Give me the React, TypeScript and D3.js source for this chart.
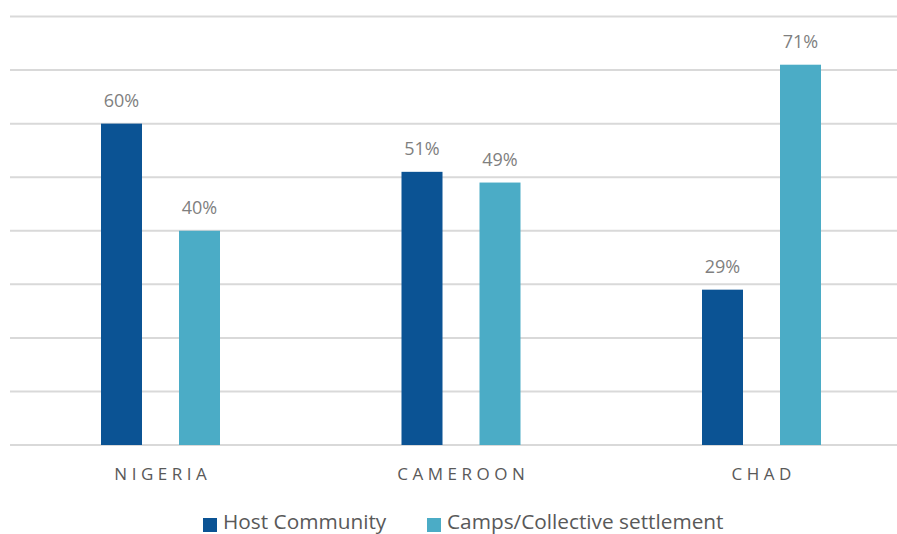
import React from "react";
import * as d3 from "d3";

const categories = ["NIGERIA", "CAMEROON", "CHAD"];
const seriesNames = ["Host Community", "Camps/Collective settlement"];
const hostValues = [0.6, 0.51, 0.29];
const campValues = [0.4, 0.49, 0.71];
const gridTicks = [0, 0.1, 0.2, 0.3, 0.4, 0.5, 0.6, 0.7, 0.8];

const colors = ["#0b5394", "#4bacc6"];
const W = 897;
const H = 534;
const FONT = "'Open Sans', sans-serif";

export default function App() {
  const x = d3.scaleBand<string>().domain(categories).range([10.25, 911.75]).paddingInner(0).paddingOuter(0);
  const inner = d3.scaleBand<string>().domain(seriesNames).range([-59.5, 59.5]).paddingInner(37 / 78).paddingOuter(0);
  const y = d3.scaleLinear().domain([0, 0.8]).range([445, 16.5]);
  const series = [hostValues, campValues];
  const fmt = d3.format(".0%");
  const ls = 4.5;

  return (
    <svg width={W} height={H} style={{ position: "absolute", left: 0, top: 0, background: "#fff" }} fontFamily={FONT}>
      {gridTicks.map((t) => (
        <line key={t} x1={10} x2={W} y1={y(t)} y2={y(t)} stroke="#d9d9d9" strokeWidth={2} />
      ))}
      {categories.map((c, i) => {
        const cx = (x(c) as number) + x.bandwidth() / 2;
        return (
          <g key={c}>
            {seriesNames.map((s, j) => {
              const v = series[j][i];
              const bx = cx + (inner(s) as number);
              return (
                <g key={s}>
                  <rect x={bx} y={y(v)} width={inner.bandwidth()} height={y(0) - y(v)} fill={colors[j]} />
                  <text x={bx + inner.bandwidth() / 2} y={y(v) - 17} textAnchor="middle" fontSize={18} fill="#7f7f7f">
                    {fmt(v)}
                  </text>
                </g>
              );
            })}
            <text x={cx + ls / 2} y={480} textAnchor="middle" fontSize={17} letterSpacing={ls} fill="#595959">
              {c}
            </text>
          </g>
        );
      })}
      {seriesNames.map((s, j) => {
        const lx = [203, 427][j];
        return (
          <g key={s}>
            <rect x={lx} y={518} width={14} height={14} fill={colors[j]} />
            <text x={lx + 20} y={529} fontSize={20.8} fill="#595959">
              {s}
            </text>
          </g>
        );
      })}
    </svg>
  );
}
